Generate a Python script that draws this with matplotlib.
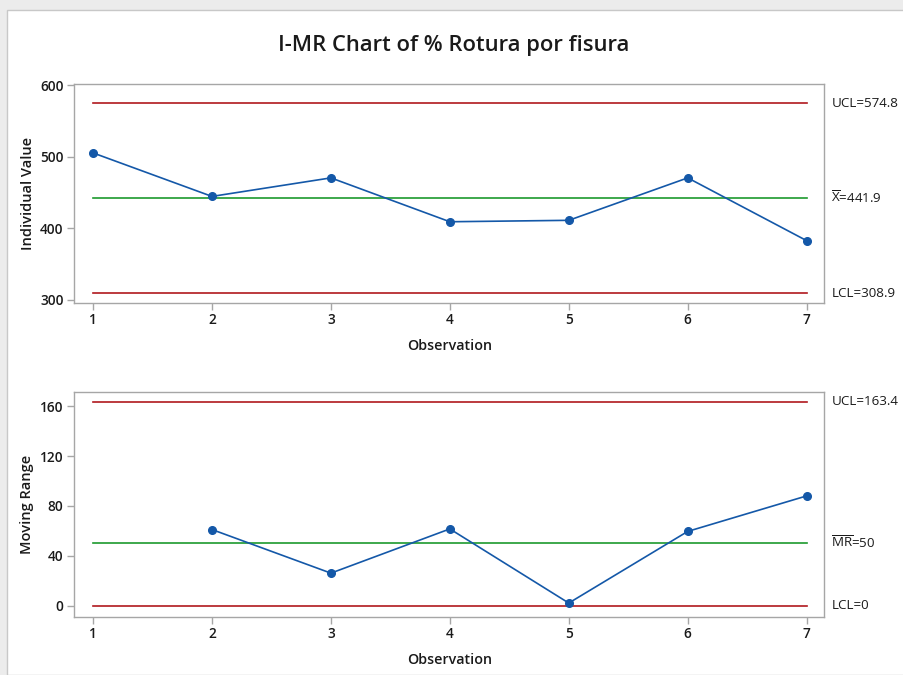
import matplotlib
matplotlib.use("Agg")
import matplotlib.pyplot as plt
from matplotlib.patches import Rectangle

plt.rcParams['font.family'] = ['Open Sans', 'DejaVu Sans']
plt.rcParams['mathtext.fontset'] = 'custom'
plt.rcParams['mathtext.rm'] = 'Open Sans'

# Observations and measurements
observations = [1, 2, 3, 4, 5, 6, 7]
individual = [505.5, 444.5, 470.5, 409.0, 411.0, 470.5, 382.5]
mr_obs = [2, 3, 4, 5, 6, 7]
moving_range = [61.0, 26.0, 61.5, 2.0, 59.5, 88.0]

# Control limits
i_ucl, i_center, i_lcl = 574.8, 441.9, 308.9
mr_ucl, mr_center, mr_lcl = 163.4, 50.0, 0.0

i_ticks = [300, 400, 500, 600]
mr_ticks = [0, 40, 80, 120, 160]

RED = '#b0191e'
GREEN = '#1d9a2e'
BLUE = '#1458a8'
SPINE = '#a6a6a6'
TEXT = '#1a1a1a'

W, H = 904, 675
fig = plt.figure(figsize=(W / 100, H / 100), dpi=100, facecolor='#ececec')

# white panel with thin frame
fig.patches.append(Rectangle((7 / W, 0), 1 - 7 / W + 0.01, (H - 10) / H,
                             transform=fig.transFigure, facecolor='white',
                             edgecolor='#c8c8c8', linewidth=1.0, zorder=-10))


def axes_box(left, top, right, bottom):
    return [left / W, 1 - bottom / H, (right - left) / W, (bottom - top) / H]


ax1 = fig.add_axes(axes_box(74, 83.5, 824.5, 302.5))
ax2 = fig.add_axes(axes_box(74, 391.5, 824.5, 616.5))


def style(ax, ylim, yticks, ylabel):
    ax.set_facecolor('none')
    ax.set_xlim(0.84, 7.15)
    ax.set_ylim(*ylim)
    ax.set_xticks(observations)
    ax.set_yticks(yticks)
    for s in ax.spines.values():
        s.set_color(SPINE)
        s.set_linewidth(1.0)
    ax.tick_params(axis='both', direction='out', length=5, width=1.0,
                   color=SPINE, labelsize=9.8, labelcolor=TEXT, pad=2.5)
    for lab in ax.get_xticklabels() + ax.get_yticklabels():
        lab.set_fontweight('semibold')
    ax.set_xlabel('Observation', fontsize=10.3, color=TEXT, labelpad=9,
                  fontweight='semibold')
    ax.set_ylabel(ylabel, fontsize=10.5, color=TEXT, labelpad=4,
                  fontweight='semibold')


def limits(ax, ucl, center, lcl):
    ax.plot([1, 7], [ucl, ucl], color=RED, lw=1.2, zorder=2)
    ax.plot([1, 7], [center, center], color=GREEN, lw=1.2, zorder=2)
    ax.plot([1, 7], [lcl, lcl], color=RED, lw=1.2, zorder=2)


# Individual chart
style(ax1, (295.8, 602.8), i_ticks, 'Individual Value')
limits(ax1, i_ucl, i_center, i_lcl)
ax1.plot(observations, individual, color=BLUE, lw=1.2, marker='o',
         markersize=5.5, zorder=3)

# Moving range chart
style(ax2, (-8.8, 171.8), mr_ticks, 'Moving Range')
limits(ax2, mr_ucl, mr_center, mr_lcl)
ax2.plot(mr_obs, moving_range, color=BLUE, lw=1.2, marker='o',
         markersize=5.5, zorder=3)

# limit annotations right of each panel
for ax, items in ((ax1, [(i_ucl, f'UCL={i_ucl}'),
                         (i_center, r'$\overline{\mathrm{X}}$' + f'={i_center}'),
                         (i_lcl, f'LCL={i_lcl}')]),
                  (ax2, [(mr_ucl, f'UCL={mr_ucl}'),
                         (mr_center, r'$\overline{\mathrm{MR}}$' + f'={mr_center:g}'),
                         (mr_lcl, f'LCL={mr_lcl:g}')])):
    for yv, txt in items:
        ax.annotate(txt, xy=(1.0, yv), xycoords=('axes fraction', 'data'),
                    xytext=(5, 0), textcoords='offset points',
                    fontsize=9.6, color=TEXT, va='center', ha='left',
                    annotation_clip=False)

fig.text(454 / W, 1 - 45 / H, 'I-MR Chart of % Rotura por fisura',
         ha='center', va='center', fontsize=15.8, fontweight='semibold',
         color=TEXT)

fig.savefig('out.png', dpi=100, facecolor=fig.get_facecolor())
